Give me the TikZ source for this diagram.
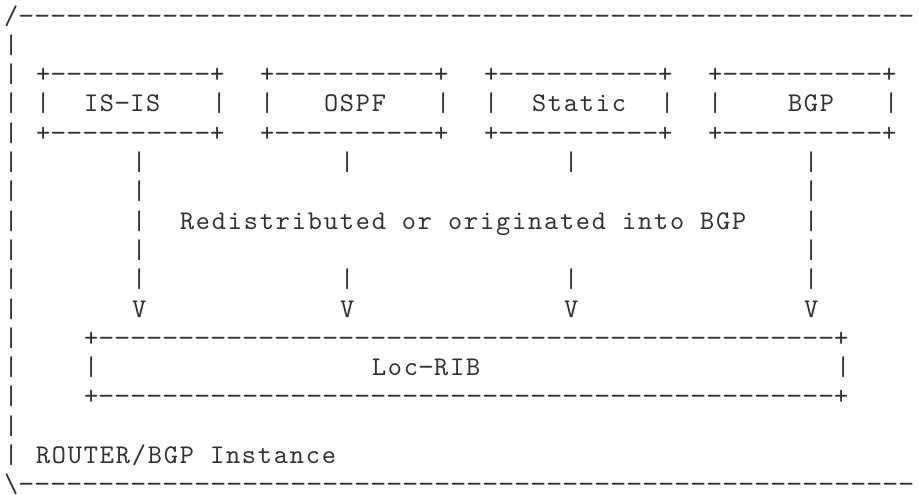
\documentclass[tikz,border=0pt]{standalone}
\usepackage{graphicx}
\usepackage{fontspec}
\newfontfamily\asciiface{lmmono10-regular.otf}[LetterSpace=6.7]
\newcommand\adash{\makebox[8pt][c]{\scalebox{1.15}[1]{-}}}
\ExplSyntaxOn
\cs_new:Npn \asciidashes #1 {\prg_replicate:nn {#1} {\adash}}
\ExplSyntaxOff
\newcommand\asciifont{\asciiface\fontsize{13.5pt}{14.65pt}\selectfont}
\tikzset{ch/.style={anchor=base west, inner sep=0pt, outer sep=0pt, font=\asciifont, text=black!80}}
% cell at column #2, row #3
\newcommand\putc[4]{\node[ch] (#1) at ({2pt+(#2)*8pt},{-12pt-(#3)*14.65pt}) {#4};}
\begin{document}
\begin{tikzpicture}
\fill[white] (0,0) rectangle (459.5pt,-247pt);
\useasboundingbox (0,0) rectangle (459.5pt,-247pt);
% outer frame
\putc{frametop}{0}{0}{/\asciidashes{56}}
\foreach \r in {1,...,15}{\putc{lb\r}{0}{\r}{|}}
\putc{framebot}{0}{16}{\textbackslash\asciidashes{56}}
% protocol boxes
\foreach \n/\c in {isis/2,ospf/16,stat/30,bgp/44}{
  \putc{\n top}{\c}{2}{+\asciidashes{10}+}
  \putc{\n bot}{\c}{4}{+\asciidashes{10}+}
  \putc{\n left}{\c}{3}{|}
  \putc{\n right}{\c+11}{3}{|}
}
\putc{isis}{5}{3}{IS\adash IS}
\putc{ospf}{20}{3}{OSPF}
\putc{stat}{33}{3}{Static}
\putc{bgp}{49}{3}{BGP}
% connectors
\foreach \r in {5,...,9}{\putc{isisv\r}{8}{\r}{|}\putc{bgpv\r}{50}{\r}{|}}
\foreach \r in {5,9}{\putc{ospfv\r}{21}{\r}{|}\putc{statv\r}{35}{\r}{|}}
\foreach \n/\c in {isis/8,ospf/21,stat/35,bgp/50}{\putc{\n arrow}{\c}{10}{V}}
\putc{label}{11}{7}{Redistributed or originated into BGP}
% Loc-RIB box
\putc{ribtop}{5}{11}{+\asciidashes{46}+}
\putc{ribleft}{5}{12}{|}
\putc{rib}{23}{12}{Loc\adash RIB}
\putc{ribright}{52}{12}{|}
\putc{ribbot}{5}{13}{+\asciidashes{46}+}
\putc{inst}{2}{15}{ROUTER/BGP Instance}
\end{tikzpicture}
\end{document}
